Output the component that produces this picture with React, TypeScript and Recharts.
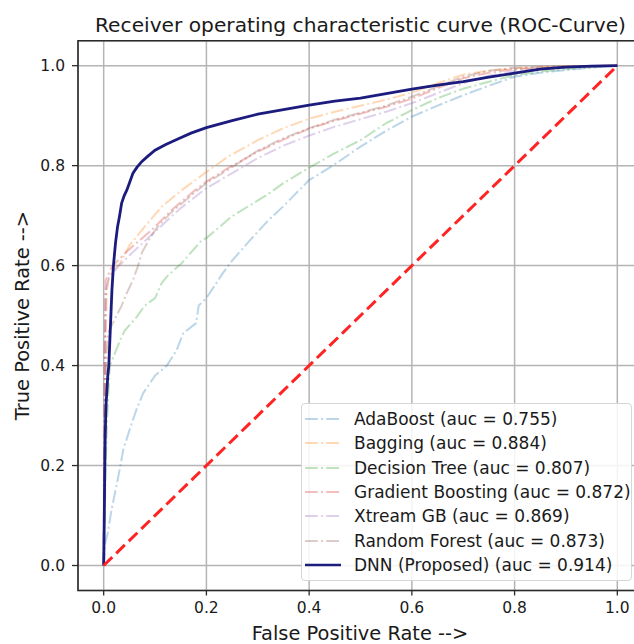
import { LineChart, Line, XAxis, YAxis, CartesianGrid, Legend, ReferenceArea } from "recharts";

const FONT = "'DejaVu Sans', sans-serif";
const TEXT = "#1a1a1a";

// ROC points (fpr / tpr pairs)
const adaFpr = [0, 0.003, 0.008, 0.015, 0.025, 0.032, 0.038, 0.05, 0.063, 0.077, 0.1, 0.123, 0.142, 0.155, 0.18, 0.185, 0.2, 0.232, 0.25, 0.285, 0.32, 0.349, 0.4, 0.446, 0.5, 0.55, 0.6, 0.65, 0.7, 0.75, 0.8, 0.85, 0.9, 0.95, 1];
const adaTpr = [0, 0.045, 0.065, 0.11, 0.16, 0.197, 0.231, 0.27, 0.31, 0.345, 0.38, 0.4, 0.431, 0.465, 0.485, 0.52, 0.535, 0.585, 0.61, 0.651, 0.69, 0.718, 0.771, 0.8, 0.838, 0.87, 0.898, 0.92, 0.941, 0.96, 0.978, 0.986, 0.991, 0.996, 1];

const bagFpr = [0, 0.002, 0.004, 0.006, 0.01, 0.018, 0.032, 0.05, 0.08, 0.113, 0.152, 0.197, 0.242, 0.3, 0.35, 0.4, 0.45, 0.5, 0.55, 0.6, 0.65, 0.7, 0.75, 0.8, 0.9, 1];
const bagTpr = [0, 0.25, 0.45, 0.55, 0.575, 0.59, 0.605, 0.64, 0.678, 0.718, 0.751, 0.785, 0.818, 0.851, 0.875, 0.894, 0.908, 0.92, 0.932, 0.946, 0.965, 0.982, 0.99, 0.995, 0.999, 1];

const dtFpr = [0, 0.002, 0.004, 0.007, 0.012, 0.022, 0.032, 0.041, 0.064, 0.08, 0.1, 0.113, 0.123, 0.152, 0.191, 0.2, 0.249, 0.317, 0.35, 0.4, 0.45, 0.5, 0.55, 0.6, 0.65, 0.7, 0.75, 0.8, 0.85, 0.9, 0.95, 1];
const dtTpr = [0, 0.1, 0.2, 0.3, 0.4, 0.425, 0.451, 0.47, 0.497, 0.52, 0.535, 0.565, 0.578, 0.605, 0.651, 0.655, 0.698, 0.741, 0.765, 0.796, 0.825, 0.851, 0.885, 0.911, 0.935, 0.954, 0.968, 0.981, 0.988, 0.993, 0.997, 1];

const gbFpr = [0, 0.001, 0.002, 0.003, 0.004, 0.016, 0.048, 0.093, 0.132, 0.178, 0.2, 0.242, 0.3, 0.35, 0.4, 0.45, 0.5, 0.55, 0.6, 0.65, 0.7, 0.75, 0.8, 0.9, 1];
const gbTpr = [0, 0.2, 0.4, 0.5, 0.571, 0.598, 0.631, 0.671, 0.711, 0.751, 0.768, 0.795, 0.828, 0.852, 0.874, 0.89, 0.904, 0.918, 0.934, 0.955, 0.975, 0.986, 0.993, 0.998, 1];

const xgbFpr = [0, 0.001, 0.002, 0.004, 0.01, 0.03, 0.06, 0.1, 0.15, 0.2, 0.25, 0.3, 0.35, 0.4, 0.45, 0.5, 0.55, 0.6, 0.65, 0.7, 0.75, 0.8, 0.9, 1];
const xgbTpr = [0, 0.2, 0.42, 0.55, 0.575, 0.6, 0.63, 0.668, 0.715, 0.755, 0.785, 0.815, 0.84, 0.86, 0.878, 0.893, 0.908, 0.925, 0.945, 0.965, 0.98, 0.99, 0.997, 1];

const rfFpr = [0, 0.002, 0.004, 0.006, 0.009, 0.02, 0.035, 0.045, 0.057, 0.067, 0.074, 0.09, 0.103, 0.13, 0.17, 0.2, 0.25, 0.3, 0.35, 0.4, 0.45, 0.5, 0.55, 0.6, 0.65, 0.7, 0.75, 0.8, 0.9, 1];
const rfTpr = [0, 0.2, 0.35, 0.43, 0.465, 0.49, 0.52, 0.545, 0.571, 0.6, 0.625, 0.655, 0.675, 0.705, 0.74, 0.765, 0.797, 0.83, 0.855, 0.875, 0.892, 0.906, 0.92, 0.938, 0.958, 0.978, 0.99, 0.996, 0.999, 1];

const dnnFpr = [0, 0.001, 0.002, 0.003, 0.004, 0.005, 0.006, 0.008, 0.01, 0.012, 0.014, 0.016, 0.019, 0.023, 0.027, 0.031, 0.035, 0.04, 0.045, 0.051, 0.057, 0.065, 0.074, 0.085, 0.1, 0.12, 0.139, 0.17, 0.2, 0.25, 0.3, 0.35, 0.4, 0.45, 0.5, 0.55, 0.6, 0.65, 0.7, 0.75, 0.8, 0.85, 0.9, 0.95, 1];
const dnnTpr = [0, 0.08, 0.18, 0.26, 0.3, 0.33, 0.345, 0.38, 0.4, 0.45, 0.5, 0.55, 0.6, 0.645, 0.678, 0.7, 0.725, 0.74, 0.751, 0.768, 0.785, 0.797, 0.808, 0.818, 0.831, 0.842, 0.851, 0.865, 0.876, 0.89, 0.903, 0.912, 0.921, 0.929, 0.935, 0.944, 0.953, 0.961, 0.968, 0.977, 0.985, 0.993, 0.997, 0.999, 1];

const chanceFpr = [0, 1];
const chanceTpr = [0, 1];

const ticks = [0, 0.2, 0.4, 0.6, 0.8, 1.0];

const pts = (fpr: number[], tpr: number[]) => fpr.map((x, i) => ({ x, y: tpr[i] }));

const models = [
  { name: "AdaBoost", auc: "0.755", color: "#1f77b4", data: pts(adaFpr, adaTpr) },
  { name: "Bagging", auc: "0.884", color: "#ff7f0e", data: pts(bagFpr, bagTpr) },
  { name: "Decision Tree", auc: "0.807", color: "#2ca02c", data: pts(dtFpr, dtTpr) },
  { name: "Gradient Boosting", auc: "0.872", color: "#d62728", data: pts(gbFpr, gbTpr) },
  { name: "Xtream GB", auc: "0.869", color: "#9467bd", data: pts(xgbFpr, xgbTpr) },
  { name: "Random Forest", auc: "0.873", color: "#8c564b", data: pts(rfFpr, rfTpr) },
];
const dnn = { name: "DNN (Proposed)", auc: "0.914", color: "#1c1c7e", data: pts(dnnFpr, dnnTpr) };

const ALPHA = 0.3;
const DASHDOT = "12.8 3.2 2 3.2";

function LegendBox() {
  const rows = [...models.map((m) => ({ ...m, solid: false })), { ...dnn, solid: true }];
  return (
    <div
      style={{
        border: "1px solid #d6d6d6",
        borderRadius: 4,
        background: "rgba(255,255,255,0.85)",
        padding: "3px 0",
        width: 331,
        boxSizing: "border-box",
      }}
    >
      {rows.map((r) => (
        <div key={r.name} style={{ display: "flex", alignItems: "center", height: 24.3 }}>
          <svg width={36} height={10} style={{ marginLeft: 3, marginRight: 13, flexShrink: 0 }}>
            <line
              x1={0}
              y1={5}
              x2={36}
              y2={5}
              stroke={r.color}
              strokeOpacity={r.solid ? 1 : ALPHA}
              strokeWidth={r.solid ? 2.6 : 2}
              strokeDasharray={r.solid ? undefined : DASHDOT}
            />
          </svg>
          <span style={{ fontFamily: FONT, fontSize: 17, color: TEXT, whiteSpace: "nowrap" }}>
            {`${r.name} (auc = ${r.auc})`}
          </span>
        </div>
      ))}
    </div>
  );
}

export default function App() {
  return (
    <div
      style={{
        position: "fixed",
        left: 0,
        top: 0,
        width: 634,
        height: 644,
        overflow: "hidden",
        background: "#fff",
      }}
    >
      <LineChart width={660} height={644} margin={{ top: 40.7, right: 17, bottom: 0, left: 0 }}>
        <CartesianGrid stroke="#b4b4b4" strokeWidth={1.5} />
        <XAxis
          dataKey="x"
          type="number"
          domain={[-0.05, 1.05]}
          ticks={ticks}
          allowDataOverflow
          tickFormatter={(v: number) => v.toFixed(1)}
          axisLine={false}
          tickLine={{ stroke: "#2b2b2b", strokeWidth: 1.3 }}
          tickSize={5}
          tickMargin={6}
          height={53.5}
          tick={{ fontSize: 15.5, fill: TEXT, fontFamily: FONT }}
        />
        <YAxis
          dataKey="y"
          type="number"
          domain={[-0.05, 1.05]}
          ticks={ticks}
          allowDataOverflow
          tickFormatter={(v: number) => v.toFixed(1)}
          axisLine={false}
          tickLine={{ stroke: "#2b2b2b", strokeWidth: 1.3 }}
          tickSize={6}
          tickMargin={7}
          width={78}
          tick={{ fontSize: 15.5, fill: TEXT, fontFamily: FONT }}
        />
        {models.map((m) => (
          <Line
            key={m.name}
            data={m.data}
            dataKey="y"
            name={`${m.name} (auc = ${m.auc})`}
            type="linear"
            stroke={m.color}
            strokeOpacity={ALPHA}
            strokeWidth={2}
            strokeDasharray={DASHDOT}
            dot={false}
            activeDot={false}
            isAnimationActive={false}
          />
        ))}
        <Line
          data={dnn.data}
          dataKey="y"
          name={`${dnn.name} (auc = ${dnn.auc})`}
          type="linear"
          stroke={dnn.color}
          strokeWidth={2.8}
          dot={false}
          activeDot={false}
          isAnimationActive={false}
        />
        <Line
          data={pts(chanceFpr, chanceTpr)}
          dataKey="y"
          type="linear"
          stroke="#ff2424"
          strokeWidth={3}
          strokeDasharray="12 5.5"
          legendType="none"
          dot={false}
          activeDot={false}
          isAnimationActive={false}
        />
        <ReferenceArea x1={-0.05} x2={1.05} y1={-0.05} y2={1.05} fill="none" stroke="#2b2b2b" strokeWidth={1.6} />
        <Legend
          layout="vertical"
          align="center"
          verticalAlign="middle"
          wrapperStyle={{ left: 301, top: 403, width: 331 }}
          content={() => <LegendBox />}
        />
      </LineChart>
      <svg
        width={634}
        height={644}
        style={{ position: "absolute", left: 0, top: 0, pointerEvents: "none" }}
      >
        <text x={360.5} y={31.5} textAnchor="middle" fontFamily={FONT} fontSize={20.2} fill={TEXT}>
          Receiver operating characteristic curve (ROC-Curve)
        </text>
        <text x={360} y={640} textAnchor="middle" fontFamily={FONT} fontSize={19.4} fill={TEXT}>
          False Positive Rate --&gt;
        </text>
        <text
          x={29}
          y={315.6}
          textAnchor="middle"
          fontFamily={FONT}
          fontSize={19.4}
          fill={TEXT}
          transform="rotate(-90 29 315.6)"
        >
          True Positive Rate --&gt;
        </text>
      </svg>
    </div>
  );
}
